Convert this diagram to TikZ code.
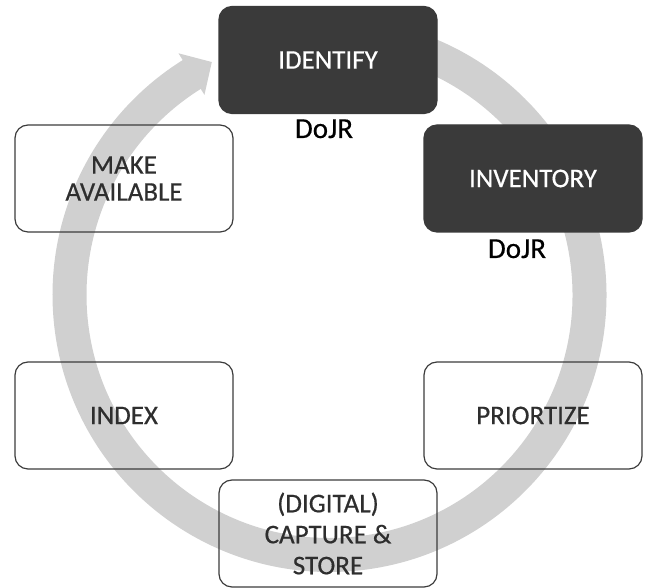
\documentclass[tikz,border=0pt]{standalone}
\usepackage{fontspec}
\setmainfont{Carlito}
\newfontfamily\medfont{Carlito}[FakeBold=0.5]
\usetikzlibrary{calc}
\definecolor{bandgray}{HTML}{D0D0D0}
\definecolor{darkbox}{HTML}{3A3A3A}
\definecolor{edgegray}{HTML}{3C3C3C}
\definecolor{txtgray}{HTML}{2E2E2E}
\begin{document}
\begin{tikzpicture}[x=1pt,y=1pt,
  stage/.style={draw=edgegray, line width=1.2pt, rounded corners=13pt,
    minimum width=218pt, minimum height=107pt, align=center, text=txtgray,
    font=\medfont\fontsize{27}{27}\selectfont, inner sep=0pt},
  darkstage/.style={stage, fill=darkbox, draw=darkbox, text=white},
  owner/.style={anchor=base, text=black, font=\medfont\fontsize{29}{29}\selectfont, inner sep=0pt}]
\useasboundingbox (0,0) rectangle (646,588);
\coordinate (C) at (329.5,293);
% circular arrow band
\draw[bandgray, line width=34pt] ([shift={(95:260)}]C) arc[start angle=95, end angle=-238.3, radius=260];
\fill[bandgray] ([shift={(122:285)}]C) -- ([shift={(116.8:261)}]C) -- ([shift={(122:236)}]C) -- cycle;
% stages
\node[darkstage] (identify) at (328,528) {IDENTIFY};
\node[darkstage] (inventory) at (533,409.5) {INVENTORY};
\node[stage] (make) at (124,409.5) {MAKE\\AVAILABLE};
\node[stage] (index) at (124,172.5) {INDEX};
\node[stage] (prio) at (533,172.5) {PRIORTIZE};
\node[stage, font=\medfont\fontsize{27}{31}\selectfont] (capture) at (328,54.5) {(DIGITAL)\\CAPTURE \&\\STORE};
% owners
\node[owner] (dojr1) at (324,450) {DoJR};
\node[owner] (dojr2) at (517,330) {DoJR};
\end{tikzpicture}
\end{document}
